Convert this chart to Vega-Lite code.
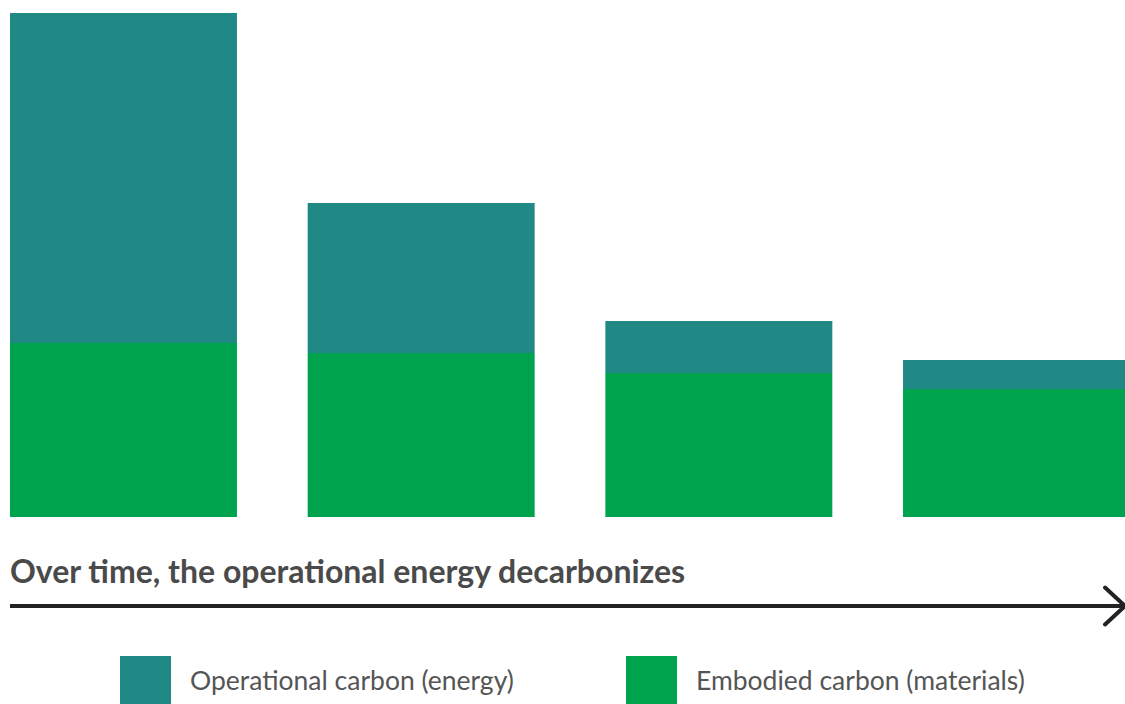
{
  "$schema": "https://vega.github.io/schema/vega-lite/v6.json",
  "width": 1125,
  "height": 704,
  "autosize": {"type": "none"},
  "padding": 0,
  "background": "white",
  "config": {"view": {"stroke": null}},
  "datasets": {
    "bars": [
      {"period": "t1", "type": "Operational carbon (energy)", "value": 330},
      {"period": "t1", "type": "Embodied carbon (materials)", "value": 174},
      {"period": "t2", "type": "Operational carbon (energy)", "value": 150},
      {"period": "t2", "type": "Embodied carbon (materials)", "value": 164},
      {"period": "t3", "type": "Operational carbon (energy)", "value": 52},
      {"period": "t3", "type": "Embodied carbon (materials)", "value": 144},
      {"period": "t4", "type": "Operational carbon (energy)", "value": 29},
      {"period": "t4", "type": "Embodied carbon (materials)", "value": 128}
    ],
    "caption": [
      {"period": "t1", "y": -66, "label": "Over time, the operational energy decarbonizes"}
    ],
    "arrow": [
      {"start": "t1", "end": "t4", "y": -89}
    ]
  },
  "layer": [
    {
      "data": {"name": "bars"},
      "mark": {"type": "bar", "clip": true},
      "encoding": {
        "x": {
          "field": "period",
          "type": "nominal",
          "axis": null,
          "scale": {"domain": ["t1", "t2", "t3", "t4"], "range": [10, 1130], "paddingInner": 0.2375, "paddingOuter": 0}
        },
        "y": {
          "field": "value",
          "type": "quantitative",
          "stack": "zero",
          "axis": null,
          "scale": {"domain": [-187, 517], "nice": false, "zero": false}
        },
        "color": {
          "field": "type",
          "type": "nominal",
          "scale": {
            "domain": ["Operational carbon (energy)", "Embodied carbon (materials)"],
            "range": ["#208985", "#00A34D"]
          },
          "legend": {
            "title": null,
            "orient": "none",
            "direction": "horizontal",
            "legendX": 120,
            "legendY": 656,
            "symbolType": "square",
            "symbolSize": 2601,
            "symbolStrokeWidth": 0,
            "symbolOpacity": 1,
            "labelFont": "Lato",
            "labelFontSize": 26.5,
            "labelColor": "#555555",
            "labelOffset": 19,
            "labelLimit": 500,
            "columnPadding": 112
          }
        },
        "order": {"field": "type", "sort": "ascending"}
      }
    },
    {
      "data": {"name": "caption"},
      "mark": {"type": "text", "align": "left", "baseline": "alphabetic", "font": "Lato", "fontWeight": "bold", "fontSize": 32, "color": "#4a4a4a"},
      "encoding": {
        "x": {"field": "period", "type": "nominal", "bandPosition": 0},
        "y": {"field": "y", "type": "quantitative"},
        "text": {"field": "label"}
      }
    },
    {
      "data": {"name": "arrow"},
      "mark": {"type": "rule", "strokeWidth": 4, "color": "#222222", "clip": true},
      "encoding": {
        "x": {"field": "start", "type": "nominal", "bandPosition": 0},
        "x2": {"field": "end", "bandPosition": 1},
        "y": {"field": "y", "type": "quantitative"}
      }
    },
    {
      "data": {"name": "arrow"},
      "mark": {"type": "point", "shape": "M -1.35,-1 L -0.27,0 L -1.35,1", "size": 1369, "filled": false, "strokeWidth": 4, "color": "#222222", "opacity": 1, "strokeCap": "round", "strokeJoin": "miter"},
      "encoding": {
        "x": {"field": "end", "type": "nominal", "bandPosition": 1},
        "y": {"field": "y", "type": "quantitative"}
      }
    }
  ]
}
